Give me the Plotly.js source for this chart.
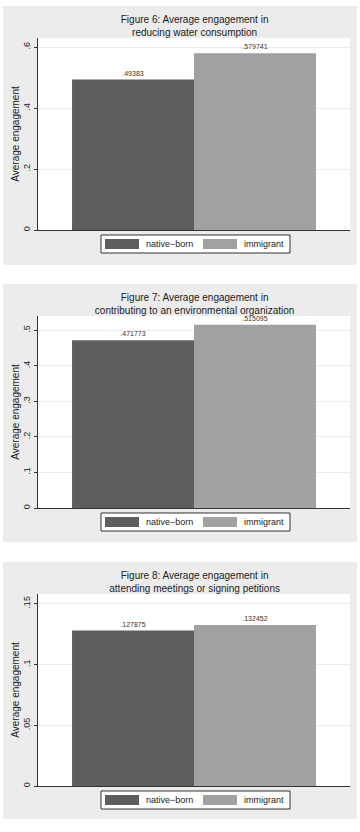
<!DOCTYPE html>
<html>
<head>
<meta charset="utf-8">
<script src="https://cdn.plot.ly/plotly-3.0.1.min.js"></script>
<style>
  html, body { margin: 0; padding: 0; background: #ffffff; width: 360px; height: 832px; overflow: hidden; }
  .panel { position: absolute; left: 3px; width: 354px; }
</style>
</head>
<body>
<div id="p1" class="panel" style="top:6px;height:259px;"></div>
<div id="p2" class="panel" style="top:284px;height:258px;"></div>
<div id="p3" class="panel" style="top:562px;height:257px;"></div>
<script>
// ---- data ----
const seriesNames = ["native\u2212born", "immigrant"];
const titles = [
  "Figure 6: Average engagement in<br>reducing water consumption",
  "Figure 7: Average engagement in<br>contributing to an environmental organization",
  "Figure 8: Average engagement in<br>attending meetings or signing petitions"
];
const nativeBorn = [0.49383, 0.471773, 0.127875];
const immigrant = [0.579741, 0.515095, 0.132452];
const tickVals1 = [0, 0.2, 0.4, 0.6];
const tickText1 = ["0", ".2", ".4", ".6"];
const tickVals2 = [0, 0.1, 0.2, 0.3, 0.4, 0.5];
const tickText2 = ["0", ".1", ".2", ".3", ".4", ".5"];
const tickVals3 = [0, 0.05, 0.1, 0.15];
const tickText3 = ["0", ".05", ".1", ".15"];
const yMax = [0.63, 0.54, 0.158];
const yTitle = "Average engagement";

// ---- style ----
const colors = ["#5e5e5e", "#a1a1a1"];
const font = "Liberation Sans, Arial, Helvetica, sans-serif";
const tickSets = [[tickVals1, tickText1], [tickVals2, tickText2], [tickVals3, tickText3]];
const ids = ["p1", "p2", "p3"];
const heights = [259, 258, 257];
// legend geometry in paper coordinates (plot area: x 35..347, y 32..224 of panel)
const legBox = { x0: 0.2019, x1: 0.8077, y0: -0.1198, y1: -0.026 };
const swatches = [{ x0: 0.2147, x1: 0.3237, tx: 0.3397 }, { x0: 0.5288, x1: 0.6378, tx: 0.6538 }];
const swY = { y0: -0.099, y1: -0.0469, ty: -0.0729 };

function fmt(v) { return String(v).replace(/^0/, ""); }

ids.forEach((id, i) => {
  const vals = [nativeBorn[i], immigrant[i]];
  const traces = vals.map((v, k) => ({
    type: "bar",
    name: seriesNames[k],
    x: [k + 1],
    y: [v],
    width: 1,
    text: [fmt(v)],
    textposition: "outside",
    cliponaxis: false,
    textfont: { family: font, size: 7, color: "#333333" },
    marker: { color: colors[k], line: { width: 0 } },
    hoverinfo: "skip",
    showlegend: false
  }));
  const shapes = [{
    type: "rect", xref: "paper", yref: "paper",
    x0: legBox.x0, x1: legBox.x1, y0: legBox.y0, y1: legBox.y1,
    fillcolor: "#ffffff", line: { color: "#333333", width: 1 }
  }];
  const annotations = [];
  seriesNames.forEach((name, k) => {
    shapes.push({
      type: "rect", xref: "paper", yref: "paper",
      x0: swatches[k].x0, x1: swatches[k].x1, y0: swY.y0, y1: swY.y1,
      fillcolor: colors[k], line: { width: 0 }
    });
    annotations.push({
      xref: "paper", yref: "paper", x: swatches[k].tx, y: swY.ty,
      xanchor: "left", yanchor: "middle", showarrow: false,
      text: name, font: { family: font, size: 9, color: "#222222" }
    });
  });
  const layout = {
    width: 354,
    height: heights[i],
    margin: { l: 35, r: 7, t: 32, b: heights[i] - 224 },
    paper_bgcolor: "#ececec",
    plot_bgcolor: "#ffffff",
    font: { family: font, color: "#222222" },
    showlegend: false,
    barmode: "overlay",
    title: {
      text: titles[i],
      font: { family: font, size: 10, color: "#222222" },
      x: 0.502, xanchor: "center",
      xref: "paper", yref: "container",
      y: 1 - 17 / heights[i], yanchor: "top"
    },
    shapes: shapes,
    annotations: annotations,
    xaxis: {
      range: [0.221, 2.779],
      showticklabels: false,
      ticks: "",
      showgrid: false,
      zeroline: false,
      showline: true,
      linecolor: "#333333",
      linewidth: 1,
      fixedrange: true
    },
    yaxis: {
      range: [0, yMax[i]],
      tickvals: tickSets[i][0],
      ticktext: tickSets[i][1],
      tickangle: -90,
      ticks: "outside",
      ticklen: 3,
      tickcolor: "#333333",
      tickfont: { family: font, size: 9, color: "#222222" },
      showgrid: true,
      gridcolor: "#ededed",
      gridwidth: 1,
      zeroline: false,
      showline: true,
      linecolor: "#333333",
      linewidth: 1,
      title: { text: yTitle, font: { family: font, size: 10, color: "#222222" }, standoff: 0 },
      fixedrange: true
    }
  };
  Plotly.newPlot(id, traces, layout, { displayModeBar: false, staticPlot: true });
});
</script>
</body>
</html>
